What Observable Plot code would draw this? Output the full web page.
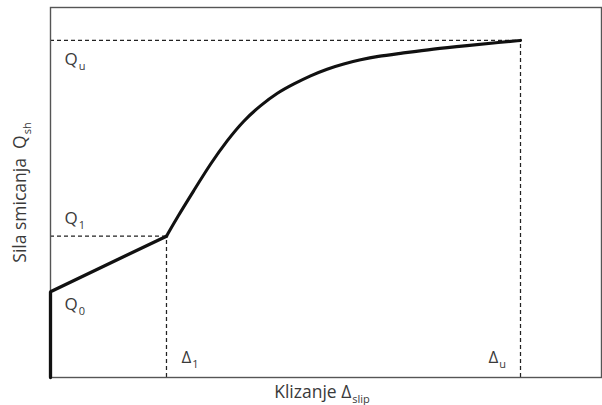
<!DOCTYPE html>
<html>
<head>
<meta charset="utf-8">
<script src="https://cdn.jsdelivr.net/npm/d3@7"></script>
<script src="https://cdn.jsdelivr.net/npm/@observablehq/plot@0.6"></script>
<style>
  html, body { margin: 0; padding: 0; background: #fff; }
  #chart { width: 602px; height: 405px; }
</style>
</head>
<body>
<div id="chart"></div>
<script>
// Key values (arbitrary units)
const Q0 = 23.2, Q1 = 38.2, Qu = 91.1;
const D1 = 21.05, Du = 85.3;

// Initial linear part: vertical rise to Q0, then linear to (Δ1, Q1)
const initX = [0, 0, D1];
const initY = [0, Q0, Q1];

// Nonlinear part from (Δ1, Q1) to (Δu, Qu)
const curveX = [21.05, 23.0, 26.0, 29.04, 32.07, 35.08, 38.1, 41.1, 44.2, 47.2, 50.2, 53.2, 56.3, 59.3, 63.5, 69.5, 75.6, 81.7, 85.3];
const curveY = [38.2, 43.3, 50.5, 57.8, 64.1, 69.5, 73.5, 76.9, 79.4, 81.6, 83.4, 84.8, 85.9, 86.8, 87.6, 88.8, 89.7, 90.6, 91.1];

// Labels
const qLabels = ["Q_u", "Q_1", "Q_0"];
const dLabels = ["Δ_1", "Δ_u"];
const xTitle = "Klizanje Δ_slip";
const yTitle = "Sila smicanja  Q_sh";

const init = initX.map((x, i) => ({x, y: initY[i]}));
const curve = curveX.map((x, i) => ({x, y: curveY[i]}));

const ink = "#111";
const txt = "#3a3a3a";
const dash = "4,3";
const fs = 17;

const plot = Plot.plot({
  width: 602,
  height: 405,
  marginLeft: 50,
  marginRight: 1,
  marginTop: 7,
  marginBottom: 28,
  style: {fontFamily: "'Open Sans', sans-serif", background: "#fff", overflow: "visible"},
  x: {domain: [0, 100], axis: null},
  y: {domain: [0, 100], axis: null},
  marks: [
    // dashed guide lines
    Plot.ruleY([Q1], {x1: 0, x2: D1, stroke: "#222", strokeWidth: 1.25, strokeDasharray: dash}),
    Plot.ruleX([D1], {y1: 0, y2: Q1, stroke: "#222", strokeWidth: 1.25, strokeDasharray: dash}),
    Plot.ruleY([Qu], {x1: 0, x2: Du, stroke: "#222", strokeWidth: 1.25, strokeDasharray: dash}),
    Plot.ruleX([Du], {y1: 0, y2: Qu, stroke: "#222", strokeWidth: 1.25, strokeDasharray: dash}),
    Plot.frame({stroke: "#555", strokeWidth: 1.4}),
    // the curve
    Plot.line(init, {x: "x", y: "y", stroke: ink, strokeWidth: 3.3, strokeLinejoin: "miter"}),
    Plot.line(curve, {x: "x", y: "y", stroke: ink, strokeWidth: 3.1, curve: "basis"}),
    // Q labels
    Plot.text([qLabels[0]], {x: 0, y: Qu, text: d => d, textAnchor: "start", lineAnchor: "bottom", dx: 14, dy: 25, fontSize: fs, fill: txt}),
    Plot.text([qLabels[1]], {x: 0, y: Q1, text: d => d, textAnchor: "start", lineAnchor: "bottom", dx: 14, dy: -12, fontSize: fs, fill: txt}),
    Plot.text([qLabels[2]], {x: 0, y: Q0, text: d => d, textAnchor: "start", lineAnchor: "bottom", dx: 14, dy: 18, fontSize: fs, fill: txt}),
    // Δ labels
    Plot.text([dLabels[0]], {x: D1, y: 0, text: d => d, textAnchor: "start", lineAnchor: "bottom", dx: 15, dy: -15, fontSize: fs, fill: txt}),
    Plot.text([dLabels[1]], {x: Du, y: 0, text: d => d, textAnchor: "start", lineAnchor: "bottom", dx: -32, dy: -15, fontSize: fs, fill: txt}),
    // axis titles
    Plot.text([xTitle], {frameAnchor: "bottom", text: d => d, textAnchor: "middle", lineAnchor: "bottom", dy: 20, dx: -4, fontSize: 17.5, fill: txt}),
    Plot.text([yTitle], {frameAnchor: "left", text: d => d, textAnchor: "middle", lineAnchor: "bottom", rotate: -90, dx: -25, dy: 0, fontSize: 17.5, fill: txt})
  ]
});

// Turn "A_b" into main text + subscript tspans
d3.select(plot).selectAll("text").each(function () {
  const t = this.textContent;
  const k = t.indexOf("_");
  if (k < 0) return;
  const main = t.slice(0, k), sub = t.slice(k + 1);
  const sel = d3.select(this);
  sel.text(null);
  sel.append("tspan").text(main);
  sel.append("tspan").attr("font-size", 11).attr("dy", 5).attr("dx", 1).text(sub);
});

document.getElementById("chart").appendChild(plot);
</script>
</body>
</html>
